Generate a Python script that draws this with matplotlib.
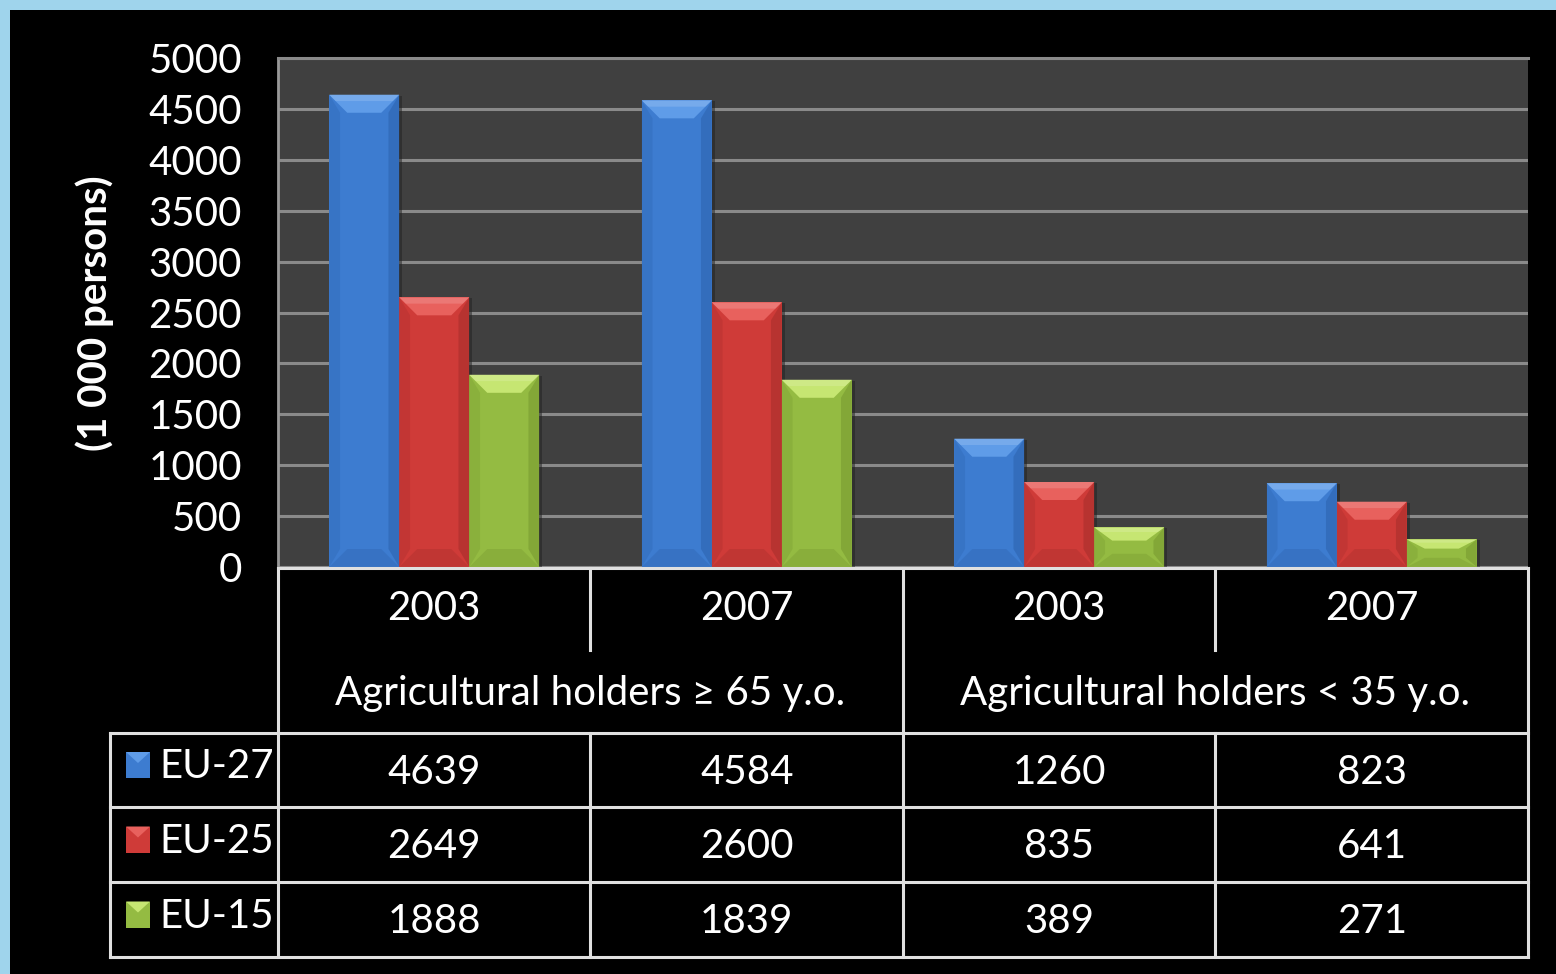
import numpy as np
import matplotlib
matplotlib.use("Agg")
import matplotlib.pyplot as plt
from matplotlib.patches import Rectangle, Polygon

# data
years = ["2003", "2007", "2003", "2007"]
groups = ["Agricultural holders \u2265 65 y.o.", "Agricultural holders < 35 y.o."]
series = ["EU-27", "EU-25", "EU-15"]
eu27 = [4639, 4584, 1260, 823]
eu25 = [2649, 2600, 835, 641]
eu15 = [1888, 1839, 389, 271]
values = [eu27, eu25, eu15]
yticks = [0, 500, 1000, 1500, 2000, 2500, 3000, 3500, 4000, 4500, 5000]

# face, light bevel, dark bevel
COLORS = [("#3d7cd0", "#5f9ce8", "#2c62ad"),
          ("#cf3b38", "#e8615d", "#a52d2b"),
          ("#94bb42", "#c6e672", "#76972f")]

FONT = ["Lato", "DejaVu Sans"]
plt.rcParams["font.family"] = FONT
FS = 29

W, H = 1556, 974
fig = plt.figure(figsize=(W / 100, H / 100), dpi=100)
fig.patch.set_facecolor("#9fd4ec")
fig.add_artist(Rectangle((10 / W, 0), 1, (H - 10) / H, transform=fig.transFigure,
                         facecolor="black", edgecolor="none", zorder=0))

# plot area in pixels
PL, PR, PT, PB = 278, 1528, 58, 567
ax = fig.add_axes([PL / W, (H - PB) / H, (PR - PL) / W, (PB - PT) / H])
ax.set_facecolor("#404040")
ax.set_xlim(0, len(years))
ax.set_ylim(0, 5000)
ax.set_yticks(yticks)
ax.set_yticklabels([str(t) for t in yticks], color="white", fontsize=FS)
ax.tick_params(axis="y", length=0, pad=26)
ax.set_xticks([])
ax.grid(axis="y", color="#8a8a8a", linewidth=2.2)
ax.set_axisbelow(True)
for s in ["right", "bottom"]:
    ax.spines[s].set_visible(False)
ax.spines["left"].set_color("#999999")
ax.spines["left"].set_linewidth(2)
ax.spines["top"].set_color("#8a8a8a")
ax.spines["top"].set_linewidth(2.2)

# pixel -> data scale
dxp = len(years) / (PR - PL)
dyp = 5000 / (PB - PT)
bw = 0.224
bev = 18


def bevel_bar(axis, x0, w, h, cols, bx, by):
    face, light, dark = cols
    axis.add_patch(Rectangle((x0 + 3 * bx, -by), w, h, facecolor="#222222",
                             edgecolor="none", alpha=0.5, zorder=2))
    axis.add_patch(Rectangle((x0, 0), w, h, facecolor=face, edgecolor="none", zorder=3))
    ex, ey = bev * bx, min(bev * by, h / 3)
    x1 = x0 + w
    # top bevel
    axis.add_patch(Polygon([(x0, h), (x1, h), (x1 - ex, h - ey), (x0 + ex, h - ey)],
                           facecolor=light, edgecolor="none", zorder=4))
    axis.add_patch(Polygon([(x0, h), (x1, h), (x1 - ex * 0.35, h - ey * 0.35), (x0 + ex * 0.35, h - ey * 0.35)],
                           facecolor="white", alpha=0.15, edgecolor="none", zorder=4))
    # bottom bevel
    axis.add_patch(Polygon([(x0, 0), (x1, 0), (x1 - ex, ey), (x0 + ex, ey)],
                           facecolor=dark, edgecolor="none", alpha=0.35, zorder=4))
    # sides
    axis.add_patch(Polygon([(x0, 0), (x0, h), (x0 + ex * 0.6, h - ey), (x0 + ex * 0.6, ey)],
                           facecolor=dark, edgecolor="none", alpha=0.3, zorder=4))
    axis.add_patch(Polygon([(x1, 0), (x1, h), (x1 - ex * 0.6, h - ey), (x1 - ex * 0.6, ey)],
                           facecolor=dark, edgecolor="none", alpha=0.55, zorder=4))


for i in range(len(years)):
    center = i + 0.5
    for j, vals in enumerate(values):
        x0 = center + (j - 1.5) * bw
        bevel_bar(ax, x0, bw, vals[i], COLORS[j], dxp, dyp)

fig.text(95 / W, 1 - 313 / H, "(1 000 persons)", rotation=90, color="white",
         fontsize=FS, fontweight="bold", ha="center", va="center")

# table overlay in pixel coords
tb = fig.add_axes([0, 0, 1, 1])
tb.set_xlim(0, W)
tb.set_ylim(H, 0)
tb.axis("off")
tb.patch.set_alpha(0)

col_x = [PL + k * (PR - PL) / 4 for k in range(5)]
row_y = [568, 650, 733, 807, 882, 957]
LX = 110
lc, lw = "#e0e0e0", 2.2
tb.plot([PL, PR], [row_y[0]] * 2, color=lc, lw=lw)
for y in row_y[2:]:
    tb.plot([LX, PR], [y, y], color=lc, lw=lw)
for k, x in enumerate(col_x):
    if k in (1, 3):
        tb.plot([x, x], [row_y[0], row_y[1]], color=lc, lw=lw)
        tb.plot([x, x], [row_y[2], row_y[5]], color=lc, lw=lw)
    else:
        tb.plot([x, x], [row_y[0], row_y[5]], color=lc, lw=lw)
tb.plot([LX, LX], [row_y[2], row_y[5]], color=lc, lw=lw)

tkw = dict(color="white", fontsize=FS, ha="center", va="center")
for k, yr in enumerate(years):
    tb.text((col_x[k] + col_x[k + 1]) / 2, 609, yr, **tkw)
for g, lab in enumerate(groups):
    tb.text((col_x[2 * g] + col_x[2 * g + 2]) / 2, 693, lab, **tkw)

for j, (name, vals) in enumerate(zip(series, values)):
    yc = (row_y[2 + j] + row_y[3 + j]) / 2
    face, light, dark = COLORS[j]
    tb.add_patch(Rectangle((126, yc - 18), 24, 26, facecolor=face, edgecolor="none"))
    tb.add_patch(Polygon([(126, yc - 18), (150, yc - 18), (138, yc - 7)],
                         facecolor=light, edgecolor="none"))
    tb.text(159, yc - 3, name, color="white", fontsize=FS, ha="left", va="center")
    for k, v in enumerate(vals):
        tb.text((col_x[k] + col_x[k + 1]) / 2, yc + 2, str(v), **tkw)

fig.savefig("out.png", dpi=100, facecolor=fig.get_facecolor())
